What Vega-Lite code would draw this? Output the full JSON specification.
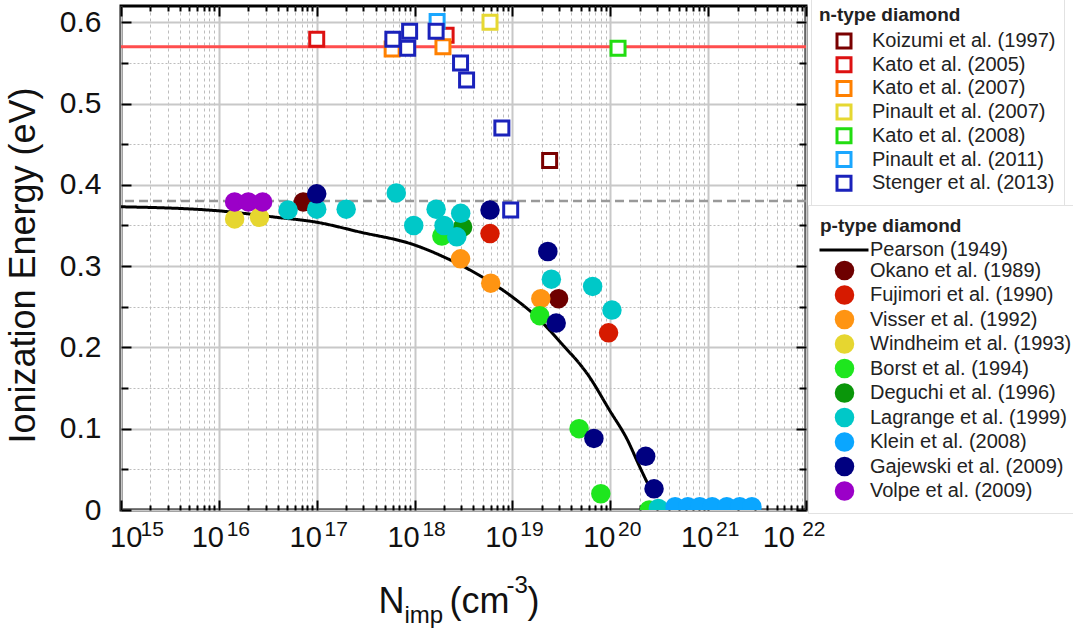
{
  "$schema": "https://vega.github.io/schema/vega-lite/v6.json",
  "width": 685,
  "height": 504,
  "autosize": {"type": "none"},
  "padding": {"left": 121, "top": 6, "right": 267, "bottom": 120},
  "background": "white",
  "config": {
    "view": {"stroke": "black", "strokeWidth": 3},
    "font": "Liberation Sans",
    "axis": {"titleFont": "Liberation Sans", "titleFontWeight": "normal", "titleColor": "#111", "labelColor": "#111"}
  },
  "datasets": {
    "ntype": [
      {"N": 2.4e19, "E": 0.43, "src": "Koizumi et al. (1997)"},
      {"N": 1e17, "E": 0.579, "src": "Kato et al. (2005)"},
      {"N": 2.1e18, "E": 0.584, "src": "Kato et al. (2005)"},
      {"N": 5.9e17, "E": 0.567, "src": "Kato et al. (2007)"},
      {"N": 1.95e18, "E": 0.57, "src": "Kato et al. (2007)"},
      {"N": 5.9e18, "E": 0.6, "src": "Pinault et al. (2007)"},
      {"N": 1.2e20, "E": 0.568, "src": "Kato et al. (2008)"},
      {"N": 1.7e18, "E": 0.601, "src": "Pinault et al. (2011)"},
      {"N": 6.0e17, "E": 0.579, "src": "Stenger et al. (2013)"},
      {"N": 8.9e17, "E": 0.589, "src": "Stenger et al. (2013)"},
      {"N": 8.5e17, "E": 0.568, "src": "Stenger et al. (2013)"},
      {"N": 1.66e18, "E": 0.589, "src": "Stenger et al. (2013)"},
      {"N": 2.95e18, "E": 0.55, "src": "Stenger et al. (2013)"},
      {"N": 3.4e18, "E": 0.529, "src": "Stenger et al. (2013)"},
      {"N": 7.8e18, "E": 0.47, "src": "Stenger et al. (2013)"},
      {"N": 9.6e18, "E": 0.369, "src": "Stenger et al. (2013)"}
    ],
    "ptype": [
      {"N": 7.3e16, "E": 0.379, "src": "Okano et al. (1989)"},
      {"N": 2.96e19, "E": 0.26, "src": "Okano et al. (1989)"},
      {"N": 5.9e18, "E": 0.34, "src": "Fujimori et al. (1990)"},
      {"N": 9.6e19, "E": 0.218, "src": "Fujimori et al. (1990)"},
      {"N": 2.95e18, "E": 0.309, "src": "Visser et al. (1992)"},
      {"N": 6.0e18, "E": 0.279, "src": "Visser et al. (1992)"},
      {"N": 1.95e19, "E": 0.26, "src": "Visser et al. (1992)"},
      {"N": 1.45e16, "E": 0.358, "src": "Windheim et al. (1993)"},
      {"N": 2.6e16, "E": 0.36, "src": "Windheim et al. (1993)"},
      {"N": 1.9e18, "E": 0.337, "src": "Borst et al. (1994)"},
      {"N": 1.9e19, "E": 0.239, "src": "Borst et al. (1994)"},
      {"N": 4.8e19, "E": 0.1, "src": "Borst et al. (1994)"},
      {"N": 8.0e19, "E": 0.02, "src": "Borst et al. (1994)"},
      {"N": 2.5e20, "E": 0.0, "src": "Borst et al. (1994)"},
      {"N": 3.1e18, "E": 0.348, "src": "Deguchi et al. (1996)"},
      {"N": 5.1e16, "E": 0.369, "src": "Lagrange et al. (1999)"},
      {"N": 1.0e17, "E": 0.37, "src": "Lagrange et al. (1999)"},
      {"N": 2.0e17, "E": 0.37, "src": "Lagrange et al. (1999)"},
      {"N": 6.5e17, "E": 0.39, "src": "Lagrange et al. (1999)"},
      {"N": 9.8e17, "E": 0.35, "src": "Lagrange et al. (1999)"},
      {"N": 1.66e18, "E": 0.37, "src": "Lagrange et al. (1999)"},
      {"N": 2.0e18, "E": 0.35, "src": "Lagrange et al. (1999)"},
      {"N": 2.96e18, "E": 0.365, "src": "Lagrange et al. (1999)"},
      {"N": 2.7e18, "E": 0.336, "src": "Lagrange et al. (1999)"},
      {"N": 2.5e19, "E": 0.284, "src": "Lagrange et al. (1999)"},
      {"N": 6.6e19, "E": 0.275, "src": "Lagrange et al. (1999)"},
      {"N": 1.04e20, "E": 0.246, "src": "Lagrange et al. (1999)"},
      {"N": 3.1e20, "E": 0.002, "src": "Lagrange et al. (1999)"},
      {"N": 4.6e20, "E": 0.004, "src": "Klein et al. (2008)"},
      {"N": 6.2e20, "E": 0.004, "src": "Klein et al. (2008)"},
      {"N": 8.2e20, "E": 0.004, "src": "Klein et al. (2008)"},
      {"N": 1.1e21, "E": 0.004, "src": "Klein et al. (2008)"},
      {"N": 1.55e21, "E": 0.004, "src": "Klein et al. (2008)"},
      {"N": 2.1e21, "E": 0.004, "src": "Klein et al. (2008)"},
      {"N": 2.8e21, "E": 0.004, "src": "Klein et al. (2008)"},
      {"N": 1.0e17, "E": 0.389, "src": "Gajewski et al. (2009)"},
      {"N": 5.9e18, "E": 0.369, "src": "Gajewski et al. (2009)"},
      {"N": 2.3e19, "E": 0.318, "src": "Gajewski et al. (2009)"},
      {"N": 2.8e19, "E": 0.23, "src": "Gajewski et al. (2009)"},
      {"N": 6.8e19, "E": 0.088, "src": "Gajewski et al. (2009)"},
      {"N": 2.3e20, "E": 0.066, "src": "Gajewski et al. (2009)"},
      {"N": 2.8e20, "E": 0.026, "src": "Gajewski et al. (2009)"},
      {"N": 1.45e16, "E": 0.379, "src": "Volpe et al. (2009)"},
      {"N": 2.0e16, "E": 0.379, "src": "Volpe et al. (2009)"},
      {"N": 2.8e16, "E": 0.379, "src": "Volpe et al. (2009)"}
    ],
    "pearson": [
      {"N": 1e15, "E": 0.373},
      {"N": 1e16, "E": 0.368},
      {"N": 3.9e16, "E": 0.36},
      {"N": 1e17, "E": 0.354},
      {"N": 2.75e17, "E": 0.342},
      {"N": 1e18, "E": 0.326},
      {"N": 2.1e18, "E": 0.31},
      {"N": 4.7e18, "E": 0.288},
      {"N": 1e19, "E": 0.262},
      {"N": 1.9e19, "E": 0.234},
      {"N": 3e19, "E": 0.208},
      {"N": 6.1e19, "E": 0.164},
      {"N": 9.8e19, "E": 0.123},
      {"N": 1.5e20, "E": 0.086},
      {"N": 2e20, "E": 0.053},
      {"N": 2.4e20, "E": 0.033}
    ],
    "nline": [{"E": 0.57}],
    "pline": [{"E": 0.38}]
  },
  "resolve": {"axis": {"x": "independent", "y": "independent"}},
  "layer": [
    {
      "data": {"name": "pearson"},
      "mark": {"type": "line", "color": "black", "strokeWidth": 3, "interpolate": "monotone", "clip": true, "opacity": 0},
      "encoding": {
        "x": {
          "field": "N", "type": "quantitative",
          "scale": {"type": "log", "domain": [1e15, 1e22], "nice": false},
          "axis": {
            "orient": "bottom",
            "values": [1e15,2e15,3e15,4e15,5e15,6e15,7e15,8e15,9e15,1e16,2e16,3e16,4e16,5e16,6e16,7e16,8e16,9e16,1e17,2e17,3e17,4e17,5e17,6e17,7e17,8e17,9e17,1e18,2e18,3e18,4e18,5e18,6e18,7e18,8e18,9e18,1e19,2e19,3e19,4e19,5e19,6e19,7e19,8e19,9e19,1e20,2e20,3e20,4e20,5e20,6e20,7e20,8e20,9e20,1e21,2e21,3e21,4e21,5e21,6e21,7e21,8e21,9e21,1e22],
            "domain": false,
            "grid": true,
            "gridColor": {"condition": {"test": "abs(log(datum.value)/LN10 - round(log(datum.value)/LN10)) < 1e-6", "value": "#c8c8c8"}, "value": "#bdbdbd"},
            "gridDash": {"condition": {"test": "abs(log(datum.value)/LN10 - round(log(datum.value)/LN10)) < 1e-6", "value": []}, "value": [3, 3]},
            "gridWidth": {"condition": {"test": "abs(log(datum.value)/LN10 - round(log(datum.value)/LN10)) < 1e-6", "value": 2}, "value": 1},
            "ticks": true,
            "tickColor": "black",
            "tickWidth": 2,
            "tickSize": {"condition": {"test": "abs(log(datum.value)/LN10 - round(log(datum.value)/LN10)) < 1e-6", "value": -10}, "value": -5},
            "labelExpr": "abs(log(datum.value)/LN10 - round(log(datum.value)/LN10)) < 1e-6 ? '10' : ''",
            "labelOverlap": false,
            "labelFont": "Liberation Sans Narrow, Liberation Sans",
            "labelFontSize": 29,
            "labelOffset": -11.5,
            "labelPadding": 23,
            "title": "N",
            "titleFont": "Liberation Sans",
            "titleFontSize": 36,
            "titleAlign": "left",
            "titleBaseline": "alphabetic",
            "titleAnchor": null,
            "titleX": 257,
            "titleY": 102
          }
        },
        "y": {
          "field": "E", "type": "quantitative",
          "scale": {"domain": [0, 0.62], "nice": false, "zero": false},
          "axis": {
            "orient": "left",
            "values": [0, 0.05, 0.1, 0.15, 0.2, 0.25, 0.3, 0.35, 0.4, 0.45, 0.5, 0.55, 0.6],
            "domain": false,
            "grid": true,
            "gridColor": {"condition": {"test": "abs(datum.value*10 - round(datum.value*10)) < 1e-6", "value": "#c8c8c8"}, "value": "#bdbdbd"},
            "gridDash": {"condition": {"test": "abs(datum.value*10 - round(datum.value*10)) < 1e-6", "value": []}, "value": [2, 2]},
            "gridWidth": {"condition": {"test": "abs(datum.value*10 - round(datum.value*10)) < 1e-6", "value": 2}, "value": 1},
            "tickColor": "black",
            "tickWidth": 2,
            "tickSize": {"condition": {"test": "abs(datum.value*10 - round(datum.value*10)) < 1e-6", "value": -10}, "value": -7},
            "labelExpr": "abs(datum.value*10 - round(datum.value*10)) < 1e-6 ? format(datum.value, '.1~f') : ''",
            "labelFont": "Liberation Sans",
            "labelFontSize": 30,
            "labelPadding": 30,
            "labelOverlap": false,
            "title": "Ionization Energy (eV)",
            "titleFontSize": 36,
            "titleAngle": 270,
            "titleAlign": "center",
            "titleBaseline": "middle",
            "titleAnchor": null,
            "titleX": -98,
            "titleY": 259
          }
        }
      }
    },
    {
      "data": {"name": "nline"},
      "mark": {"type": "rule", "color": "#ff4d4d", "strokeWidth": 3},
      "encoding": {"y": {"field": "E", "type": "quantitative", "axis": null}}
    },
    {
      "data": {"name": "pline"},
      "mark": {"type": "rule", "color": "#999999", "strokeWidth": 2.5, "strokeDash": [9, 5]},
      "encoding": {"y": {"field": "E", "type": "quantitative", "axis": null}}
    },
    {
      "data": {"name": "pearson"},
      "mark": {"type": "line", "color": "black", "strokeWidth": 3, "interpolate": "monotone", "clip": true},
      "encoding": {
        "x": {"field": "N", "type": "quantitative", "axis": null},
        "y": {"field": "E", "type": "quantitative", "axis": null},
        "strokeDash": {
          "datum": "Pearson (1949)", "type": "nominal",
          "scale": {"domain": ["Pearson (1949)"], "range": [[1, 0]]},
          "legend": {
            "title": null,
            "orient": "none",
            "legendX": 697,
            "legendY": 218,
            "symbolType": "stroke",
            "symbolSize": 2400,
            "symbolStrokeWidth": 3,
            "symbolStrokeColor": "black",
            "labelFont": "Liberation Sans",
            "labelFontSize": 20,
            "labelColor": "#222",
            "labelLimit": 400,
            "labelOffset": 0,
            "padding": 0,
            "symbolOffset": 0
          }
        }
      }
    },
    {
      "data": {"name": "ptype"},
      "mark": {"type": "circle", "size": 380, "opacity": 1, "clip": true},
      "encoding": {
        "x": {
          "field": "N", "type": "quantitative",
          "axis": {
            "orient": "bottom",
            "values": [1e15, 1e16, 1e17, 1e18, 1e19, 1e20, 1e21, 1e22],
            "domain": false, "grid": false, "ticks": false,
            "labelExpr": "format(round(log(datum.value)/LN10), 'd')",
            "labelFont": "Liberation Sans Narrow, Liberation Sans",
            "labelFontSize": 21,
            "labelOffset": 19,
            "labelPadding": 8,
            "labelOverlap": false,
            "title": "imp",
            "titleFontSize": 24,
            "titleAlign": "left",
            "titleBaseline": "alphabetic",
            "titleAnchor": null,
            "titleX": 283,
            "titleY": 112
          }
        },
        "y": {
          "field": "E", "type": "quantitative",
          "axis": {
            "orient": "left",
            "domain": false, "grid": false, "ticks": false, "labels": false,
            "title": ")",
            "titleFontSize": 36,
            "titleAngle": 0,
            "titleAlign": "left",
            "titleBaseline": "alphabetic",
            "titleAnchor": null,
            "titleX": 406,
            "titleY": 606
          }
        },
        "fill": {
          "field": "src", "type": "nominal",
          "scale": {
            "domain": ["Okano et al. (1989)", "Fujimori et al. (1990)", "Visser et al. (1992)", "Windheim et al. (1993)", "Borst et al. (1994)", "Deguchi et al. (1996)", "Lagrange et al. (1999)", "Klein et al. (2008)", "Gajewski et al. (2009)", "Volpe et al. (2009)"],
            "range": ["#6e0000", "#d61a00", "#ff9412", "#e6d630", "#1ee61e", "#0a960a", "#00c8c8", "#0aa6ff", "#000080", "#9b00c8"]
          },
          "legend": {
            "title": "p-type diamond",
            "orient": "none",
            "legendX": 687,
            "legendY": 199,
            "symbolType": "circle",
            "symbolSize": 380,
            "titleFont": "Liberation Sans",
            "titleFontSize": 19,
            "titleFontWeight": "bold",
            "titleColor": "#222",
            "labelFont": "Liberation Sans",
            "labelFontSize": 20,
            "labelColor": "#222",
            "labelLimit": 400,
            "labelOffset": 15,
            "rowPadding": 3.5,
            "padding": 12,
            "titlePadding": 24,
            "strokeColor": "#e2e2e2",
            "symbolOffset": 14
          }
        }
      }
    },
    {
      "data": {"name": "ntype"},
      "mark": {"type": "square", "size": 196, "fill": "white", "fillOpacity": 1, "strokeWidth": 3, "opacity": 1, "clip": true},
      "encoding": {
        "x": {
          "field": "N", "type": "quantitative",
          "axis": {
            "orient": "top",
            "values": [1e15,2e15,3e15,4e15,5e15,6e15,7e15,8e15,9e15,1e16,2e16,3e16,4e16,5e16,6e16,7e16,8e16,9e16,1e17,2e17,3e17,4e17,5e17,6e17,7e17,8e17,9e17,1e18,2e18,3e18,4e18,5e18,6e18,7e18,8e18,9e18,1e19,2e19,3e19,4e19,5e19,6e19,7e19,8e19,9e19,1e20,2e20,3e20,4e20,5e20,6e20,7e20,8e20,9e20,1e21,2e21,3e21,4e21,5e21,6e21,7e21,8e21,9e21,1e22],
            "domain": false, "grid": false, "labels": false,
            "tickColor": "black",
            "tickWidth": 2,
            "tickSize": {"condition": {"test": "abs(log(datum.value)/LN10 - round(log(datum.value)/LN10)) < 1e-6", "value": -10}, "value": -5},
            "title": "(cm",
            "titleFontSize": 36,
            "titleAlign": "left",
            "titleBaseline": "alphabetic",
            "titleAnchor": null,
            "titleX": 328,
            "titleY": 606
          }
        },
        "y": {
          "field": "E", "type": "quantitative",
          "axis": {
            "orient": "right",
            "values": [0, 0.05, 0.1, 0.15, 0.2, 0.25, 0.3, 0.35, 0.4, 0.45, 0.5, 0.55, 0.6],
            "domain": false, "grid": false, "labels": false,
            "tickColor": "black",
            "tickWidth": 2,
            "tickSize": {"condition": {"test": "abs(datum.value*10 - round(datum.value*10)) < 1e-6", "value": -10}, "value": -7},
            "title": "-3",
            "titleFontSize": 24,
            "titleAngle": 0,
            "titleAlign": "left",
            "titleBaseline": "alphabetic",
            "titleAnchor": null,
            "titleX": -300,
            "titleY": 586
          }
        },
        "stroke": {
          "field": "src", "type": "nominal",
          "scale": {
            "domain": ["Koizumi et al. (1997)", "Kato et al. (2005)", "Kato et al. (2007)", "Pinault et al. (2007)", "Kato et al. (2008)", "Pinault et al. (2011)", "Stenger et al. (2013)"],
            "range": ["#7a0000", "#dd1111", "#ff8000", "#e6d832", "#22dd11", "#1aa7ff", "#1a22bb"]
          },
          "legend": {
            "title": "n-type diamond",
            "orient": "none",
            "legendX": 690,
            "legendY": -8,
            "symbolType": "square",
            "symbolSize": 196,
            "symbolStrokeWidth": 3,
            "symbolFillColor": "white",
            "titleFont": "Liberation Sans",
            "titleFontSize": 19,
            "titleFontWeight": "bold",
            "titleColor": "#222",
            "labelFont": "Liberation Sans",
            "labelFontSize": 20,
            "labelColor": "#222",
            "labelLimit": 400,
            "labelOffset": 18,
            "rowPadding": -2.3,
            "padding": 8,
            "titlePadding": 6,
            "strokeColor": "#e2e2e2",
            "symbolOffset": 15
          }
        }
      }
    }
  ]
}
